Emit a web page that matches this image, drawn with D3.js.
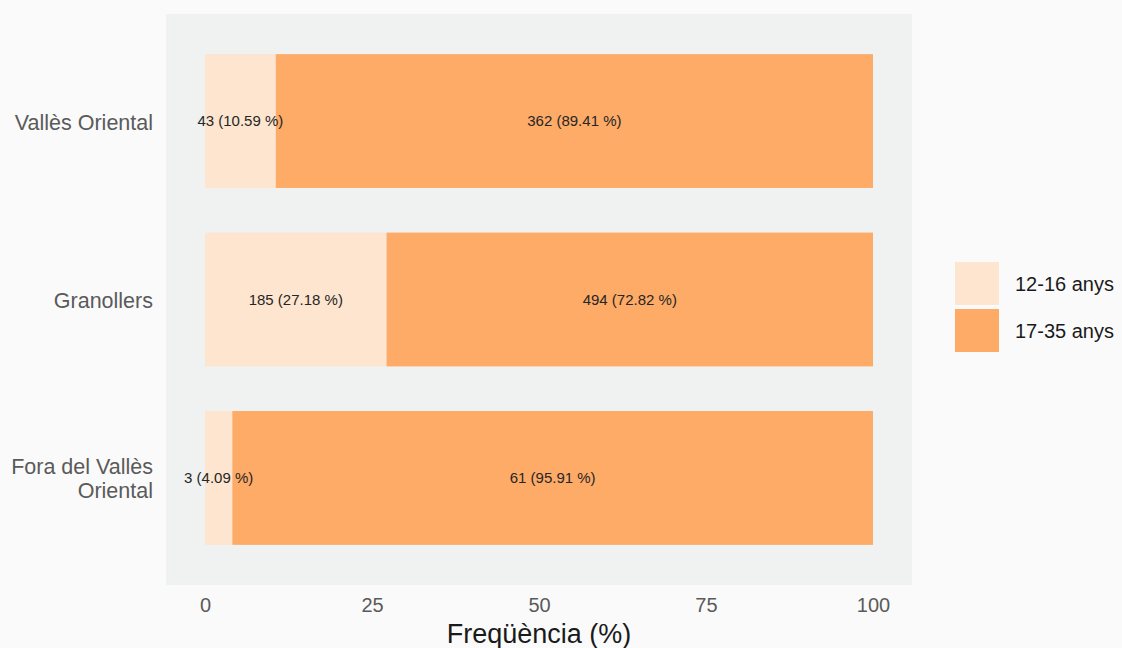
<!DOCTYPE html>
<html><head><meta charset="utf-8">
<script src="https://cdn.jsdelivr.net/npm/d3@7"></script>
<style>body{margin:0;background:#fafafa;} svg{display:block;}</style>
</head><body>
<svg id="c" width="1122" height="648"></svg>
<script>
const categories = ["Vallès Oriental", "Granollers", "Fora del Vallès Oriental"];
const groups = ["12-16 anys", "17-35 anys"];
const counts1216 = [43, 185, 3];
const counts1735 = [362, 494, 61];
const pct1216 = [10.59, 27.18, 4.09];
const pct1735 = [89.41, 72.82, 95.91];
const xTicks = [0, 25, 50, 75, 100];
const colors = ["#fde5cf", "#fdab67"];

const FONT = "Liberation Sans, Arial, sans-serif";
const svg = d3.select("#c");
svg.append("rect").attr("width",1122).attr("height",648).attr("fill","#fafafa");
const P = {l:166, r:912, t:14, b:585};
svg.append("rect").attr("x",P.l).attr("y",P.t).attr("width",P.r-P.l).attr("height",P.b-P.t).attr("fill","#f0f2f2");

const x = d3.scaleLinear().domain([-5.84, 105.84]).range([P.l, P.r]);
const y = d3.scaleBand().domain(categories).range([P.t, P.b]).paddingInner(0.25).paddingOuter(0.225);

const rows = categories.map((c,i)=>({cat:c, segs:[
  {g:0, n:counts1216[i], p:pct1216[i], x0:0, x1:pct1216[i]},
  {g:1, n:counts1735[i], p:pct1735[i], x0:pct1216[i], x1:100}
]}));

const g = svg.append("g");
rows.forEach(r=>{
  r.segs.forEach(s=>{
    g.append("rect").attr("x",x(s.x0)).attr("y",y(r.cat)).attr("width",x(s.x1)-x(s.x0)).attr("height",y.bandwidth()).attr("fill",colors[s.g]);
  });
  r.segs.forEach(s=>{
    g.append("text").attr("x",x((s.x0+s.x1)/2)).attr("y",y(r.cat)+y.bandwidth()/2).attr("dy","0.35em")
     .attr("text-anchor","middle").attr("font-family",FONT).attr("font-size",15).attr("fill","#262626")
     .text(`${s.n} (${s.p.toFixed(2)} %)`);
  });
});

// x axis
const xa = svg.append("g").attr("transform",`translate(0,${P.b})`)
  .call(d3.axisBottom(x).tickValues(xTicks).tickSize(0).tickPadding(13).tickFormat(d3.format("d")));
xa.select(".domain").remove();
xa.selectAll("text").attr("font-family",FONT).attr("font-size",20).attr("fill","#5a5a5a");
svg.append("text").attr("x",(P.l+P.r)/2).attr("y",643).attr("text-anchor","middle")
  .attr("font-family",FONT).attr("font-size",27).attr("fill","#1a1a1a").text("Freqüència (%)");

// y axis
categories.forEach(c=>{
  const cy = y(c)+y.bandwidth()/2;
  let lines = c === "Fora del Vallès Oriental" ? ["Fora del Vallès","Oriental"] : [c];
  const t = svg.append("text").attr("text-anchor","end").attr("font-family",FONT).attr("font-size",21.5).attr("fill","#5a5a5a");
  lines.forEach((l,i)=>{
    t.append("tspan").attr("x",153).attr("y",cy + 1 + (i-(lines.length-1)/2)*24).attr("dy","0.35em").text(l);
  });
});

// legend
const lg = svg.append("g");
groups.forEach((gname,i)=>{
  lg.append("rect").attr("x",955).attr("y",262+i*47).attr("width",44).attr("height",43).attr("fill",colors[i]);
  lg.append("text").attr("x",1015).attr("y",262+i*47+21.5).attr("dy","0.35em")
    .attr("font-family",FONT).attr("font-size",20).attr("fill","#1a1a1a").text(gname);
});
</script>
</body></html>
